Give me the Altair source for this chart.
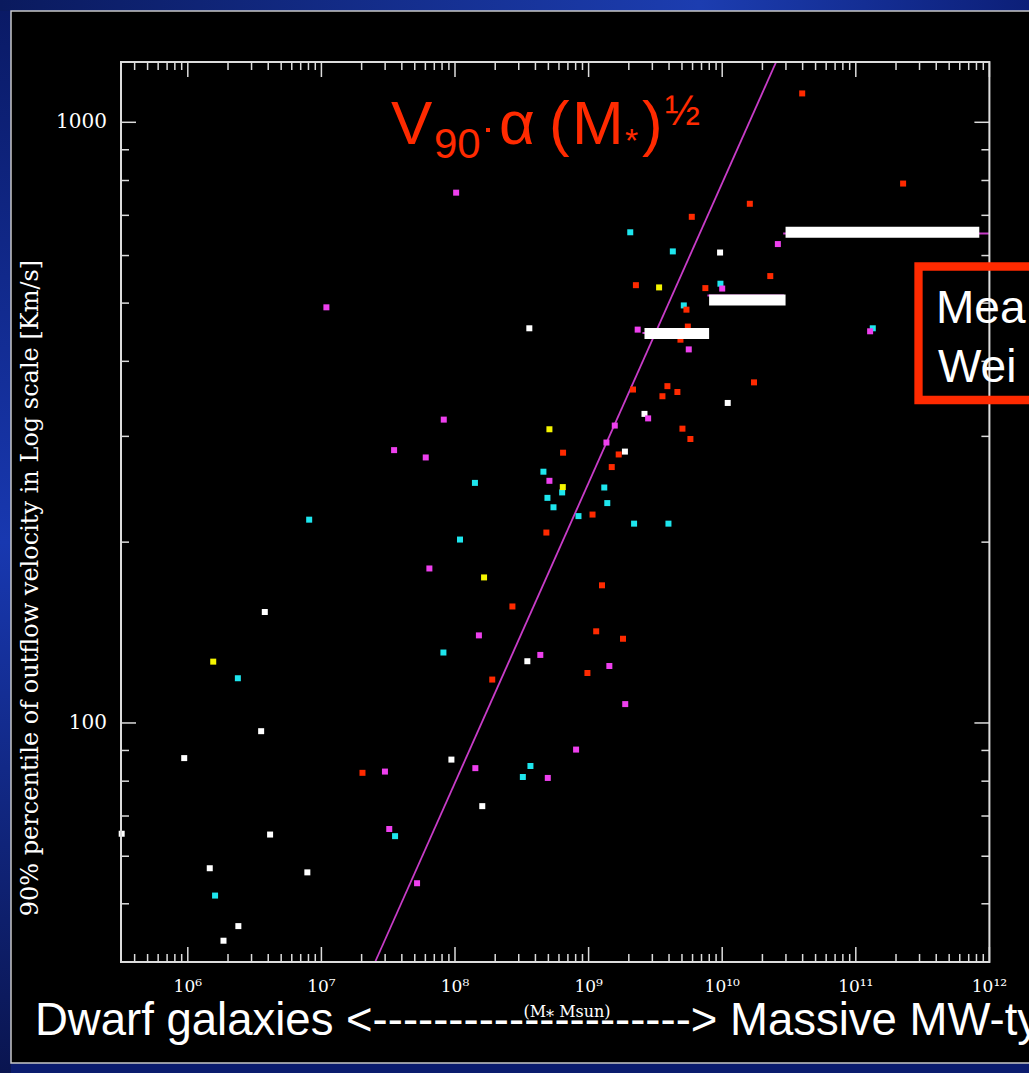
import altair as alt
import pandas as pd

# ---------------- data ----------------
white_mass = [3.2e5, 9.4e5, 1.46e6, 1.85e6, 2.39e6, 3.54e6, 3.77e6, 4.13e6, 7.85e6,
              9.4e7, 1.6e8, 3.48e8, 3.6e8, 1.87e9, 2.62e9, 9.64e9, 1.1e10]
white_vel = [65.4, 87.4, 57.3, 43.4, 45.9, 96.9, 153, 65.2, 56.4,
             86.9, 72.7, 126.7, 454, 283, 327, 607, 341]

cyan_mass = [1.6e6, 2.37e6, 8.1e6, 3.56e7, 8.19e7, 1.09e8, 1.41e8, 3.22e8, 3.67e8,
             4.59e8, 4.92e8, 5.46e8, 6.34e8, 8.4e8, 1.31e9, 1.38e9, 2.05e9, 2.19e9,
             3.96e9, 4.27e9, 5.16e9, 9.7e9, 1.34e11]
cyan_vel = [51.6, 118.7, 218, 64.8, 131, 202, 251, 81.3, 84.8,
            262, 237, 228.6, 242, 221, 246.6, 232.3, 656, 214.7,
            214.7, 609.6, 495.6, 538.6, 454]

magenta_mass = [1.09e7, 2.99e7, 3.22e7, 3.5e7, 5.2e7, 6.04e7, 6.43e7, 8.24e7, 1.02e8,
                1.42e8, 1.51e8, 4.35e8, 4.95e8, 5.09e8, 8.06e8, 1.36e9, 1.43e9, 1.57e9,
                1.88e9, 2.33e9, 2.79e9, 5.62e9, 1.0e10, 2.61e10, 1.28e11]
magenta_vel = [492, 83, 66.6, 284.6, 54.1, 276.7, 180.8, 319.9, 763.6,
               84.1, 139.9, 129.8, 81, 253, 90.3, 293, 124.4, 312.7,
               107.5, 451.7, 321.4, 418.7, 528.7, 627, 448.8]

yellow_mass = [1.55e6, 1.65e8, 5.09e8, 6.41e8, 3.37e9]
yellow_vel = [126.5, 174.7, 308.3, 247, 531]

red_mass = [2.03e7, 1.9e8, 2.69e8, 4.83e8, 6.44e8, 9.8e8, 1.07e9, 1.14e9, 1.26e9,
            1.49e9, 1.68e9, 1.81e9, 2.15e9, 2.26e9, 3.57e9, 3.89e9, 4.62e9, 4.87e9,
            5.04e9, 5.4e9, 5.53e9, 5.78e9, 5.92e9, 7.48e9, 1.61e10, 1.73e10, 2.29e10,
            3.97e10, 2.26e11]
red_vel = [82.6, 118.1, 156.3, 207.5, 281.8, 121.1, 222.3, 142.1, 169.5,
           266.7, 279.9, 138.1, 359, 535.6, 349.9, 363.7, 355.6, 434.6,
           309, 487.6, 457, 297, 696, 529.6, 731.7, 369, 554.6,
           1117, 790.7]

# V90 ~ M^(1/2) line end points
line_mass = [2.523e7, 2.533e10]
line_vel = [40, 1260]

# binned means (white bars) and magenta segments under them
bin_lo = [2.62e9, 7.98e9, 2.98e10]
bin_hi = [7.98e9, 2.98e10, 8.4e11]
bin_vel = [445, 506, 656]
seg_lo = [2.53e9, 7.75e9, 2.86e10]
seg_hi = [7.9e9, 2.9e10, 1e12]
seg_vel = [446, 515, 653]

# axes
x_major = [1e6, 1e7, 1e8, 1e9, 1e10, 1e11, 1e12]
x_labels = ["10⁶", "10⁷", "10⁸", "10⁹", "10¹⁰", "10¹¹", "10¹²"]
x_minor = [m * 10 ** e for e in range(5, 12) for m in range(2, 10)
           if 3.17e5 < m * 10 ** e < 1e12]
y_major = [100, 1000]
y_labels = ["100", "1000"]
y_minor = [50, 60, 70, 80, 90, 200, 300, 400, 500, 600, 700, 800, 900]

groups = ["white", "cyan", "magenta", "yellow", "red"]
group_colors = ["#ffffff", "#1ee6ee", "#ee40ee", "#f5f500", "#ff2a00"]

# ---------------- geometry ----------------
W, H = 868.4, 900
PL, PT = 121, 62
PR = 1029 - PL - W
PB = 1073 - PT - H

xs = alt.Scale(type="log", domain=[10 ** 5.5, 1e12], nice=False)
ys = alt.Scale(type="log", domain=[40, 1260], nice=False)

one = pd.DataFrame({"a": [0]})


def rect(x, x2, y, y2, **kw):
    return alt.Chart(one).mark_rect(**kw).encode(
        x=alt.value(x), x2=alt.value(x2), y=alt.value(y), y2=alt.value(y2))


def txt(s, x, y, size, color="white", font="Liberation Sans", align="left",
        baseline="alphabetic", angle=0):
    kw = dict(text=s, font=font, fontSize=size, color=color, align=align,
              baseline=baseline)
    if angle:
        kw["angle"] = angle
    return alt.Chart(one).mark_text(**kw).encode(x=alt.value(x), y=alt.value(y))


# background (slide)
top_grad = alt.LinearGradient(gradient="linear", x1=0, x2=1, y1=0, y2=0, stops=[
    alt.GradientStop(offset=0, color="#0a1a5e"),
    alt.GradientStop(offset=0.68, color="#1c3db0"),
    alt.GradientStop(offset=1, color="#0c1f78")])
left_grad = alt.LinearGradient(gradient="linear", x1=0, x2=0, y1=0, y2=1, stops=[
    alt.GradientStop(offset=0, color="#0a1a66"),
    alt.GradientStop(offset=0.5, color="#1838b0"),
    alt.GradientStop(offset=1, color="#0a1550")])

bg_layers = [
    rect(-PL, 1029 - PL, -PT, 1073 - PT, color="#0b1c6e"),
    rect(-PL, 1029 - PL, -PT, -51, color=top_grad),
    rect(-PL, -110, -51, 1073 - PT, color=left_grad),
    rect(-110, 1040 - PL, -51, 1001, color="black", stroke="#c8c8c8",
         strokeWidth=1.5),
]

# ticks
tick_color = "#dcdcdc"
xmaj = pd.DataFrame({"v": x_major})
xmin = pd.DataFrame({"v": x_minor})
ymaj = pd.DataFrame({"v": y_major})
ymin = pd.DataFrame({"v": y_minor})


def xticks(df, length):
    base = alt.Chart(df).mark_rule(color=tick_color, strokeWidth=1.5)
    xe = alt.X("v:Q", scale=xs, axis=None)
    return [base.encode(x=xe, y=alt.value(H), y2=alt.value(H - length)),
            base.encode(x=xe, y=alt.value(0), y2=alt.value(length))]


def yticks(df, length):
    base = alt.Chart(df).mark_rule(color=tick_color, strokeWidth=1.5)
    ye = alt.Y("v:Q", scale=ys, axis=None)
    return [base.encode(y=ye, x=alt.value(0), x2=alt.value(length)),
            base.encode(y=ye, x=alt.value(W), x2=alt.value(W - length))]


tick_layers = xticks(xmaj, 15) + xticks(xmin, 8) + yticks(ymaj, 15) + yticks(ymin, 8)

# data layers
rows = []
for g, ms, vs in [("white", white_mass, white_vel), ("cyan", cyan_mass, cyan_vel),
                  ("magenta", magenta_mass, magenta_vel),
                  ("yellow", yellow_mass, yellow_vel), ("red", red_mass, red_vel)]:
    for m, v in zip(ms, vs):
        rows.append({"mass": m, "vel": v, "group": g})
pts = pd.DataFrame(rows)

line = alt.Chart(pd.DataFrame({"mass": line_mass, "vel": line_vel})).mark_line(
    color="#c83cc8", strokeWidth=1.8).encode(
    x=alt.X("mass:Q", scale=xs, axis=None), y=alt.Y("vel:Q", scale=ys, axis=None))

points = alt.Chart(pts).mark_point(shape="square", filled=True, size=36,
                                   opacity=1).encode(
    x=alt.X("mass:Q", scale=xs, axis=None),
    y=alt.Y("vel:Q", scale=ys, axis=None),
    color=alt.Color("group:N", scale=alt.Scale(domain=groups, range=group_colors),
                    legend=None))

segs = alt.Chart(pd.DataFrame({"lo": seg_lo, "hi": seg_hi, "vel": seg_vel})).mark_rule(
    color="#c83cc8", strokeWidth=2).encode(
    x=alt.X("lo:Q", scale=xs, axis=None), x2="hi:Q",
    y=alt.Y("vel:Q", scale=ys, axis=None))

bars = alt.Chart(pd.DataFrame({"lo": bin_lo, "hi": bin_hi, "vel": bin_vel})).mark_rule(
    color="white", strokeWidth=11, strokeCap="butt").encode(
    x=alt.X("lo:Q", scale=xs, axis=None), x2="hi:Q",
    y=alt.Y("vel:Q", scale=ys, axis=None))

frame = rect(0, W, 0, H, fillOpacity=0, stroke="#dcdcdc", strokeWidth=2)

# axis labels
serif = "DejaVu Serif"
xlab = alt.Chart(pd.DataFrame({"v": x_major, "t": x_labels})).mark_text(
    font=serif, fontSize=17, color="white", align="center", baseline="middle").encode(
    x=alt.X("v:Q", scale=xs, axis=None), y=alt.value(987 - PT), text="t:N")
ylab = alt.Chart(pd.DataFrame({"v": y_major, "t": y_labels})).mark_text(
    font=serif, fontSize=20, color="white", align="right", baseline="middle").encode(
    y=alt.Y("v:Q", scale=ys, axis=None), x=alt.value(107 - PL), text="t:N")

ytitle = txt("90% percentile of outflow velocity in Log scale [Km/s]", 31 - PL,
             588 - PT, 24, font=serif, align="center", baseline="middle", angle=270)
xtitle = txt("(M⁎ Msun)", 567 - PL, 1012 - PT, 16, font=serif, align="center",
             baseline="middle")

red = "#ff2a00"
annot = [
    txt("V", 391 - PL, 143.5 - PT, 62, color=red),
    txt("90", 434 - PL, 158 - PT, 42, color=red),
    alt.Chart(one).mark_point(shape="square", filled=True, size=16, color=red,
                              opacity=1).encode(x=alt.value(488 - PL),
                                                y=alt.value(130 - PT)),
    txt("α", 499 - PL, 143.5 - PT, 62, color=red),
    txt("(", 549 - PL, 143.5 - PT, 62, color=red),
    txt("M", 572 - PL, 143.5 - PT, 62, color=red),
    txt("*", 625 - PL, 152 - PT, 34, color=red),
    txt(")", 642 - PL, 143.5 - PT, 62, color=red),
    txt("½", 665 - PL, 125 - PT, 42, color=red),
    rect(918.5 - PL, 1100 - PL, 266.5 - PT, 400 - PT, fillOpacity=0, stroke=red,
         strokeWidth=8.3),
    txt("Mea", 936 - PL, 323.3 - PT, 46),
    txt("Wei", 938 - PL, 381.7 - PT, 46),
    txt("Dwarf galaxies <---------------------> Massive MW-ty", 35 - PL, 1035 - PT, 45.5),
]

chart = alt.layer(
    *bg_layers, *tick_layers, line, points, segs, bars, frame,
    xlab, ylab, ytitle, xtitle, *annot
).properties(
    width=W, height=H,
    autosize=alt.AutoSizeParams(type="none"),
    padding={"left": PL, "top": PT, "right": PR, "bottom": PB},
).configure(background="#0b1c6e").configure_view(strokeWidth=0)

chart.save("out.html", embed_options={"renderer": "svg", "actions": False})
